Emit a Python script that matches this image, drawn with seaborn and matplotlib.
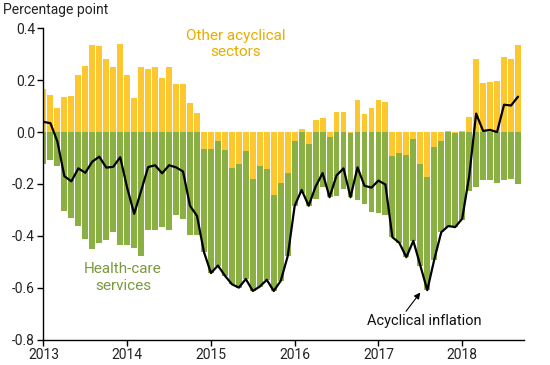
import numpy as np
import pandas as pd
import matplotlib
matplotlib.use("Agg")
import matplotlib.pyplot as plt
import seaborn as sns

# monthly contributions, Jan 2013 - Sep 2018 (percentage points)
other_acyclical = [
    0.164, 0.142, 0.094, 0.136, 0.140, 0.221, 0.253, 0.335, 0.331, 0.280, 0.250, 0.339,
    0.221, 0.132, 0.252, 0.242, 0.249, 0.206, 0.249, 0.183, 0.183, 0.113, 0.074, -0.066,
    -0.066, -0.036, -0.070, -0.138, -0.125, -0.075, -0.179, -0.130, -0.144, -0.242, -0.196, -0.156,
    -0.035, 0.012, -0.047, 0.047, 0.055, -0.019, 0.078, 0.078, -0.005, 0.125, 0.070, 0.094,
    0.125, 0.117, -0.094, -0.082, -0.090, -0.027, -0.125, -0.175, -0.058, -0.035, 0.004, -0.004,
    0.004, 0.058, 0.281, 0.187, 0.191, 0.195, 0.288, 0.281, 0.335,
]
health_care = [
    -0.125, -0.108, -0.131, -0.306, -0.330, -0.361, -0.410, -0.449, -0.426, -0.417, -0.384, -0.436,
    -0.436, -0.447, -0.478, -0.377, -0.377, -0.365, -0.377, -0.319, -0.335, -0.397, -0.397, -0.396,
    -0.477, -0.478, -0.483, -0.448, -0.474, -0.491, -0.433, -0.465, -0.425, -0.370, -0.377, -0.322,
    -0.249, -0.235, -0.237, -0.257, -0.213, -0.232, -0.245, -0.218, -0.246, -0.261, -0.277, -0.308,
    -0.312, -0.319, -0.311, -0.345, -0.392, -0.392, -0.389, -0.434, -0.433, -0.351, -0.366, -0.362,
    -0.338, -0.229, -0.210, -0.183, -0.183, -0.195, -0.183, -0.179, -0.199,
]
acyclical_inflation = [
    0.039, 0.034, -0.037, -0.170, -0.190, -0.140, -0.157, -0.114, -0.095, -0.137, -0.134, -0.097,
    -0.215, -0.315, -0.226, -0.135, -0.128, -0.159, -0.128, -0.136, -0.152, -0.284, -0.323, -0.462,
    -0.543, -0.514, -0.553, -0.586, -0.599, -0.566, -0.612, -0.595, -0.569, -0.612, -0.573, -0.478,
    -0.284, -0.223, -0.284, -0.210, -0.158, -0.251, -0.167, -0.140, -0.251, -0.136, -0.207, -0.214,
    -0.187, -0.202, -0.405, -0.427, -0.482, -0.419, -0.514, -0.609, -0.491, -0.386, -0.362, -0.366,
    -0.334, -0.171, 0.071, 0.004, 0.008, 0.000, 0.105, 0.102, 0.136,
]
year_ticks = [2013, 2014, 2015, 2016, 2017, 2018]
y_ticks = [0.4, 0.2, 0.0, -0.2, -0.4, -0.6, -0.8]

df = pd.DataFrame({
    "t": 2013 + np.arange(len(other_acyclical)) / 12,
    "other": other_acyclical,
    "health": health_care,
    "total": acyclical_inflation,
})

sns.set_style("white")
plt.rcParams["font.family"] = ["Roboto", "DejaVu Sans"]
plt.rcParams["axes.unicode_minus"] = False

YELLOW = "#FDC82F"
GREEN = "#8AAF43"

fig = plt.figure(figsize=(5.5, 3.65), dpi=100)
ax = fig.add_axes([0.079, 0.069, 0.874, 0.854])

w = 0.84 / 12
other = df["other"].values
health = df["health"].values
# negative "other" sits on the zero line, health-care stacks below it
health_bottom = np.where(other < 0, other, 0.0)
ax.bar(df["t"], other, width=w, color=YELLOW, linewidth=0, zorder=2)
ax.bar(df["t"], health, bottom=health_bottom, width=w, color=GREEN, linewidth=0, zorder=2)

sns.lineplot(data=df, x="t", y="total", color="black", linewidth=1.6, ax=ax, zorder=3)

ax.set_xlim(2013, 2018.74)
ax.set_ylim(-0.8, 0.4)
ax.set_xticks(year_ticks)
ax.set_xticklabels([str(y) for y in year_ticks])
ax.set_yticks(y_ticks)
ax.set_yticklabels([f"{v:.1f}" for v in y_ticks])
ax.set_xlabel("")
ax.set_ylabel("")
for s in ["top", "right"]:
    ax.spines[s].set_visible(False)
for s in ["left", "bottom"]:
    ax.spines[s].set_color("black")
    ax.spines[s].set_linewidth(1.0)
ax.tick_params(axis="both", direction="out", length=4, width=1, color="black",
               labelsize=10, labelcolor="#222222", pad=2, left=True, bottom=True)

fig.text(0.006, 0.972, "Percentage point", fontsize=10, color="#222222", va="center", ha="left")

ax.text(2015.3, 0.34, "Other acyclical\nsectors", ha="center", va="center",
        fontsize=11, color="#E8AD00", linespacing=1.2)
ax.text(2013.95, -0.56, "Health-care\nservices", ha="center", va="center",
        fontsize=11, color="#7A9A3C", linespacing=1.25)
ax.text(2017.55, -0.727, "Acyclical inflation", ha="center", va="center",
        fontsize=10.5, color="#111111")
ax.annotate("", xy=(2017.5, -0.618), xytext=(2017.33, -0.69),
            arrowprops=dict(arrowstyle="-|>", color="black", lw=0.8,
                            shrinkA=0, shrinkB=0, mutation_scale=9))

fig.savefig("out.png", dpi=100)
